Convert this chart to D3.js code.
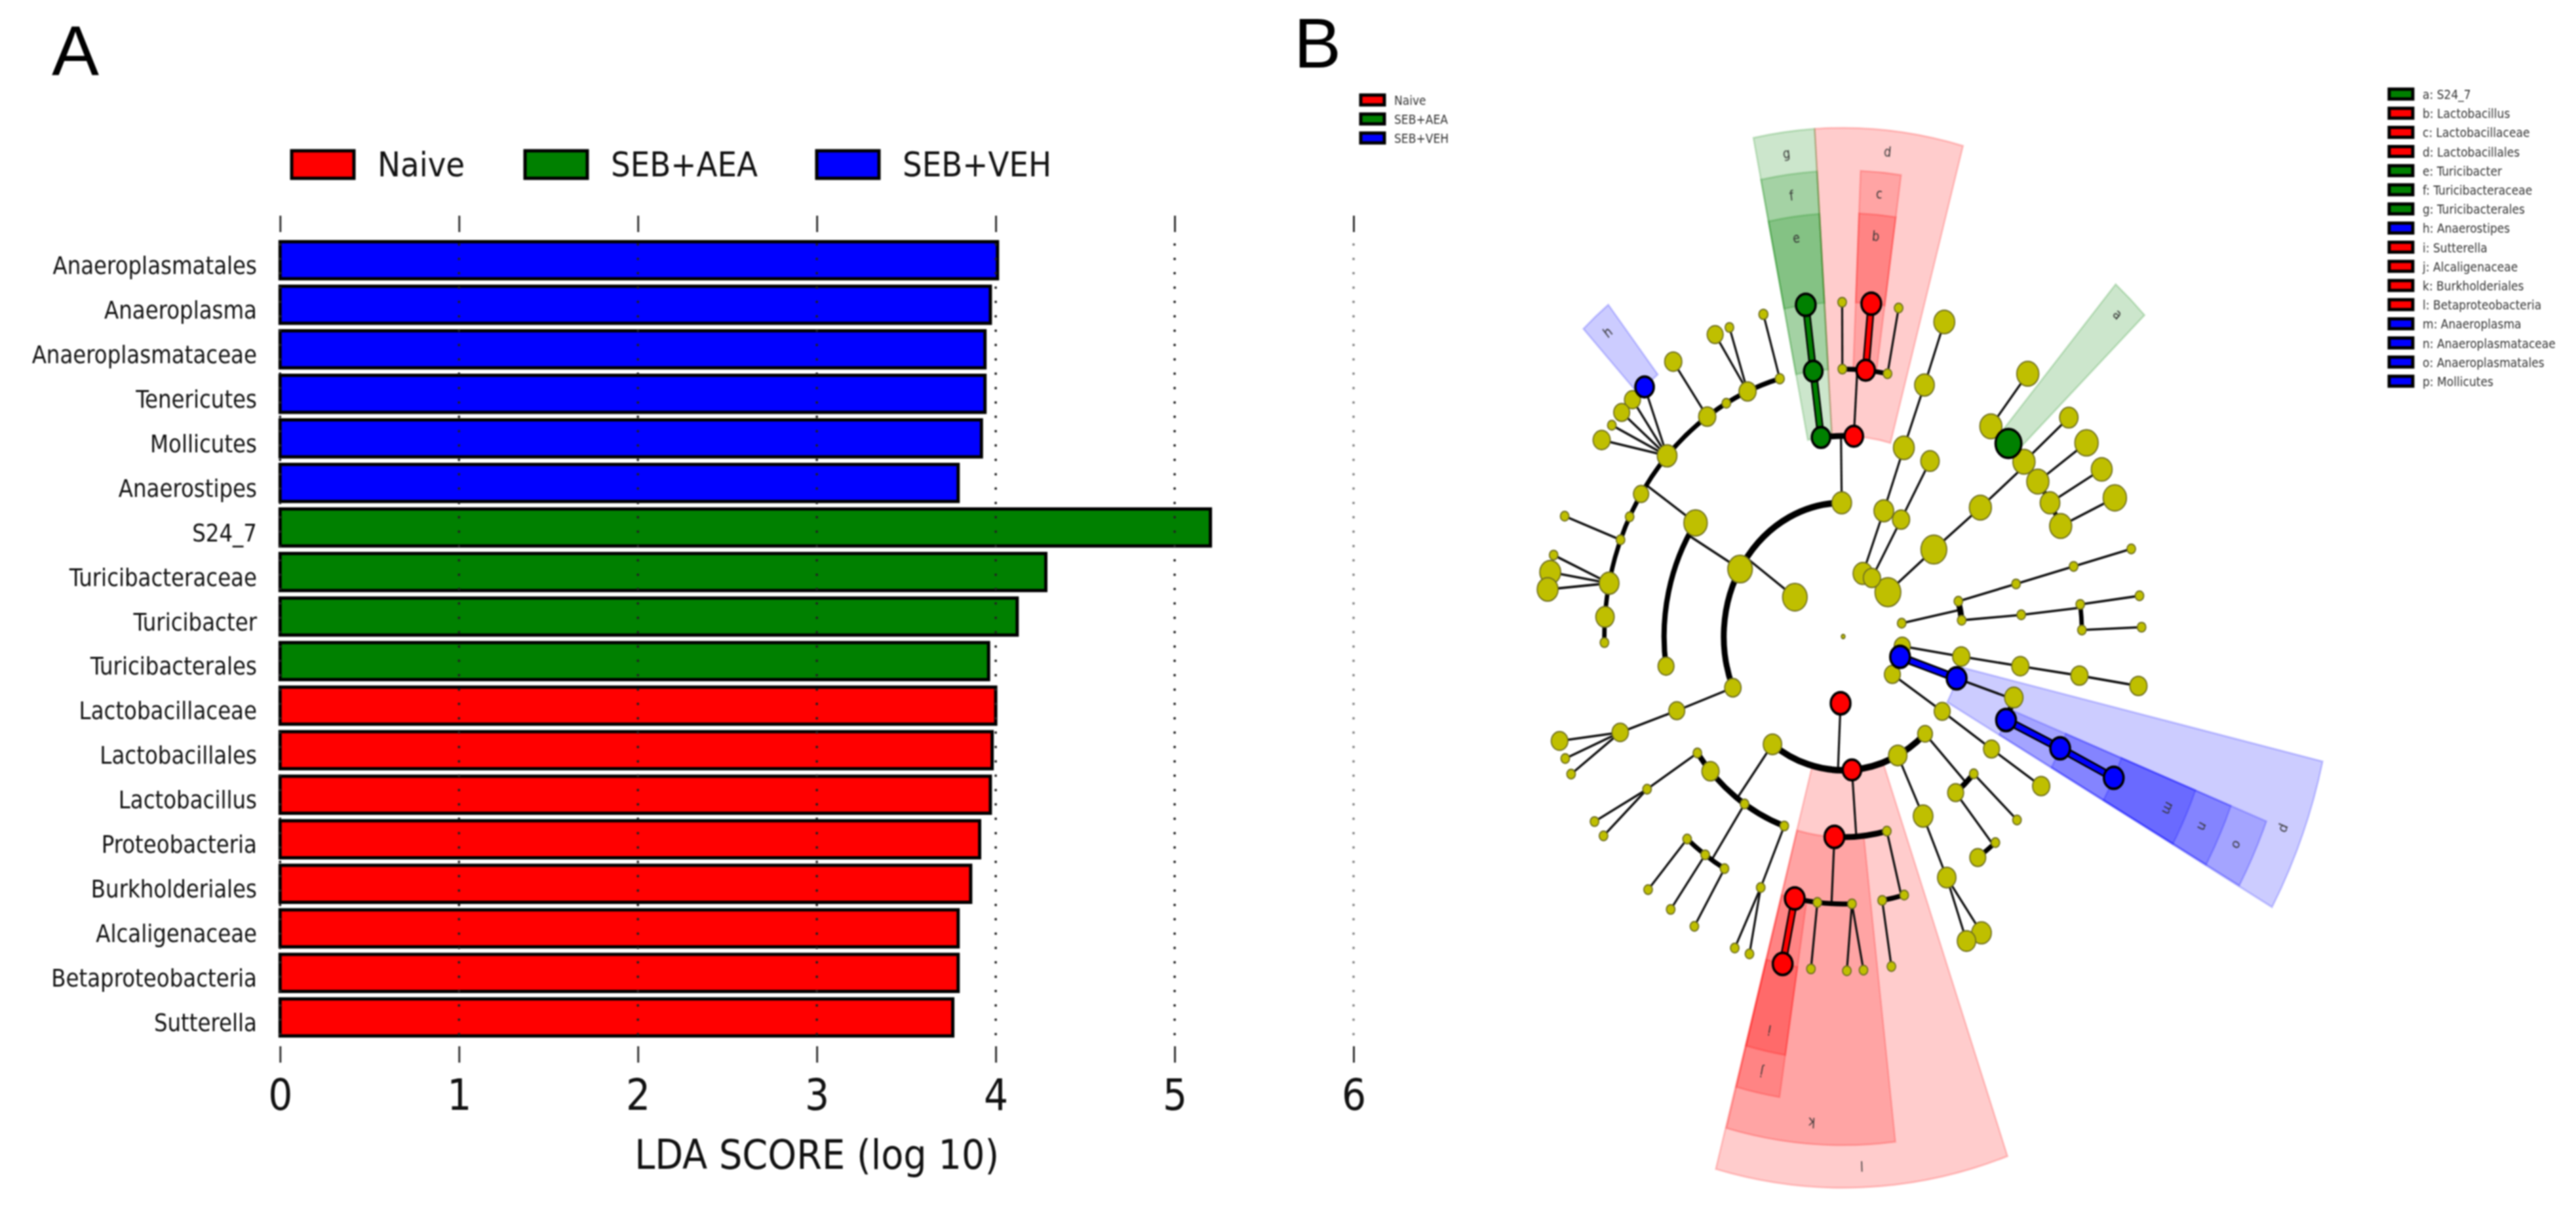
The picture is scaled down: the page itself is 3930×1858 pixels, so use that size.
<!DOCTYPE html>
<html>
<head>
<meta charset="utf-8">
<title>LDA score and cladogram</title>
<script src="https://cdn.jsdelivr.net/npm/d3@7"></script>
<style>
    html, body { margin: 0; padding: 0; background: #fff; }
    svg { display: block; filter: blur(0.9px); }
    text { font-family: "DejaVu Sans"; font-stretch: condensed; fill: #111; }
    .panel { font-family: "Liberation Sans"; font-stretch: normal; fill: #000; }
    .tiny { font-family: "DejaVu Sans"; font-stretch: condensed; fill: #333; filter: blur(0.5px); }
</style>
</head>
<body>
<script>
// Panel A: LDA scores, top to bottom
var taxa = ["Anaeroplasmatales", "Anaeroplasma", "Anaeroplasmataceae", "Tenericutes", "Mollicutes", "Anaerostipes",
    "S24_7", "Turicibacteraceae", "Turicibacter", "Turicibacterales",
    "Lactobacillaceae", "Lactobacillales", "Lactobacillus", "Proteobacteria", "Burkholderiales", "Alcaligenaceae", "Betaproteobacteria", "Sutterella"];
var ldaScores = [4.01, 3.97, 3.94, 3.94, 3.92, 3.79, 5.20, 4.28, 4.12, 3.96, 4.00, 3.98, 3.97, 3.91, 3.86, 3.79, 3.79, 3.76];
var taxaGroups = ["V", "V", "V", "V", "V", "V", "A", "A", "A", "A", "N", "N", "N", "N", "N", "N", "N", "N"];
var ldaTicks = [0, 1, 2, 3, 4, 5, 6];

var groupKeys = ["N", "A", "V"];
var groupNames = ["Naive", "SEB+AEA", "SEB+VEH"];
var groupColors = ["#ff0000", "#008000", "#0000ff"];

// Panel B: highlighted clades, letter then taxon
var cladeLetters = ["a", "b", "c", "d", "e", "f", "g", "h", "i", "j", "k", "l", "m", "n", "o", "p"];
var cladeNames = ["S24_7", "Lactobacillus", "Lactobacillaceae", "Lactobacillales", "Turicibacter", "Turicibacteraceae", "Turicibacterales",
    "Anaerostipes", "Sutterella", "Alcaligenaceae", "Burkholderiales", "Betaproteobacteria", "Anaeroplasma", "Anaeroplasmataceae", "Anaeroplasmatales", "Mollicutes"];
var cladeGroups = ["A", "N", "N", "N", "A", "A", "A", "V", "N", "N", "N", "N", "V", "V", "V", "V"];
var cladeRings = [4, 5, 4, 3, 5, 4, 3, 5, 5, 4, 3, 2, 5, 4, 3, 2];
var cladeFrom = [40.9, 2.4, 2.4, -3.6, -11.4, -11.4, -11.4, -43.4, 188.8, 188.8, 173.4, 160.5, 111.3, 111.3, 111.3, 103.1];
var cladeTo = [46.4, 8, 8, 15.3, -3.6, -3.6, -3.6, -38.4, 194.9, 194.9, 194.9, 195, 119.3, 119.3, 119.3, 119.4];

// Cladogram rows: id, parent, ring, angle (deg clockwise from north), size, group
var rootNode = [["root", null, 0, 0, 1.5, ""]];
var bacilli = [
    ["fir", null, 1, -54, 10, ""],
    ["bac", "fir", 2, -0.7, 8, ""],
    ["g", "bac", 3, -7.1, 7.5, "A"],
    ["f", "g", 4, -7.2, 7.5, "A"],
    ["e", "f", 5, -7.2, 8, "A"],
    ["d", "bac", 3, 3.4, 7.5, "N"],
    ["c", "d", 4, 5.4, 7.5, "N"],
    ["b", "c", 5, 5.4, 8, "N"],
    ["d1", "d", 4, -0.2, 3.5, ""],
    ["d1a", "d1", 5, -0.2, 3.5, ""],
    ["d2", "d", 4, 10.7, 3.5, ""],
    ["d2a", "d2", 5, 10.7, 3.5, ""]
];
var clostridia = [
    ["cla", "fir", 2, -59.7, 10, ""],
    ["clo", "cla", 3, -55.5, 9.5, ""],
    ["clo2", "cla", 3, -98.5, 6.5, ""],
    ["f1", "clo", 4, -15.4, 3.7, ""],
    ["f1a", "f1", 5, -15.5, 3.7, ""],
    ["f2", "clo", 4, -23.6, 7, ""],
    ["f2a", "f2", 5, -25.4, 6.5, ""],
    ["f2b", "f2", 5, -22.4, 3.5, ""],
    ["f3", "clo", 4, -29.3, 3.5, ""],
    ["f4", "clo", 4, -34.7, 7, ""],
    ["f4a", "f4", 5, -34.7, 7, ""],
    ["f5", "clo", 4, -47.5, 8, ""],
    ["f5b", "f5", 5, -44.9, 6.5, ""],
    ["f5c", "f5", 5, -47.9, 6.5, ""],
    ["f5d", "f5", 5, -50.8, 3.5, ""],
    ["f5e", "f5", 5, -54, 7, ""],
    ["h", "f5", 5, -41.7, 7.5, "V"],
    ["f6", "clo", 4, -57.8, 6.2, ""],
    ["f7", "clo", 4, -63.4, 3.5, ""],
    ["f8", "clo", 4, -68.8, 3.5, ""],
    ["f8a", "f8", 5, -68.9, 3.5, ""],
    ["f9", "clo", 4, -78.5, 8, ""],
    ["f9a", "f9", 5, -75.9, 3.5, ""],
    ["f9b", "f9", 5, -78.9, 8.5, ""],
    ["f9c", "f9", 5, -81.9, 8.5, ""],
    ["f10", "clo", 4, -85.8, 7.5, ""],
    ["f11", "clo", 4, -91.3, 3.5, ""]
];
var erysipelotrichi = [
    ["ery", "fir", 2, -112.5, 6.7, ""],
    ["ery2", "ery", 3, -111.7, 6.5, ""],
    ["ery3", "ery2", 4, -111, 6.7, ""],
    ["ery3a", "ery3", 5, -108.2, 6.8, ""],
    ["ery3b", "ery3", 5, -111.4, 3.5, ""],
    ["ery3c", "ery3", 5, -114.3, 3.5, ""]
];
var bacteroidetes = [
    ["bct", null, 1, 48.5, 10.5, ""],
    ["bct2", "bct", 2, 49.4, 10.5, ""],
    ["bct3", "bct2", 3, 50, 9, ""],
    ["p1", "bct3", 4, 38.2, 9, ""],
    ["p1a", "p1", 5, 38.2, 9, ""],
    ["a", "bct3", 4, 43.8, 10.5, "A"],
    ["p2", "bct3", 4, 49.2, 9, ""],
    ["p2a", "p2", 5, 49.1, 7.5, ""],
    ["p3", "bct3", 4, 54.6, 9, ""],
    ["p3a", "p3", 5, 54.6, 9.5, ""],
    ["p4", "bct3", 4, 60, 8, ""],
    ["p4a", "p4", 5, 60, 8.5, ""],
    ["p5", "bct3", 4, 65.6, 9, ""],
    ["p5a", "p5", 5, 65.5, 9.5, ""]
];
var smallPhyla = [
    ["q1", null, 1, 19.3, 8, ""],
    ["q2", "q1", 2, 19.9, 8, ""],
    ["q3", "q2", 3, 19.8, 8.5, ""],
    ["q4", "q3", 4, 19.9, 8, ""],
    ["q5", "q4", 5, 19.8, 8.5, ""],
    ["s1", null, 1, 28.8, 7, ""],
    ["s2", "s1", 2, 29, 7, ""],
    ["s3", "s2", 3, 29, 7.5, ""],
    ["u1", null, 1, 98.3, 6.5, ""],
    ["u2", "u1", 2, 98.6, 7, ""],
    ["u3", "u2", 3, 98.5, 7, ""],
    ["u4", "u3", 4, 98.4, 7, ""],
    ["u5", "u4", 5, 98.5, 7, ""],
    ["w1", null, 1, 124.5, 6.5, ""],
    ["w2", "w1", 2, 124, 6.5, ""],
    ["w3", "w2", 3, 124.1, 6.5, ""],
    ["w4", "w3", 4, 124, 7, ""]
];
var actinobacteria = [
    ["t1", null, 1, 78.5, 3.5, ""],
    ["t2", "t1", 2, 74.7, 3.5, ""],
    ["t3", "t2", 3, 74.8, 3.5, ""],
    ["t4", "t3", 4, 74.8, 3.5, ""],
    ["t5", "t4", 5, 74.8, 3.5, ""],
    ["t6", "t1", 2, 83, 3.5, ""],
    ["t7", "t6", 3, 83.8, 3.5, ""],
    ["t8", "t7", 4, 83.1, 3.5, ""],
    ["t9", "t8", 5, 83, 3.5, ""],
    ["t10", "t7", 4, 88.6, 3.5, ""],
    ["t11", "t10", 5, 88.4, 3.5, ""]
];
var tenericutes = [
    ["ten", null, 1, 107.7, 8, "V"],
    ["p", "ten", 2, 108.2, 8, "V"],
    ["o", "p", 3, 114.6, 8, "V"],
    ["n", "o", 4, 114.7, 8, "V"],
    ["m", "n", 5, 115, 8, "V"],
    ["v3", "p", 3, 107.7, 7.5, ""]
];
var proteobacteria = [
    ["pro", null, 1, 182.5, 8, "N"],
    ["x1", "pro", 2, 136.7, 6, ""],
    ["x1a", "x1", 3, 133.2, 3.5, ""],
    ["x1b", "x1a", 4, 133.3, 3.5, ""],
    ["x1c", "x1", 3, 141.1, 6.5, ""],
    ["x1d", "x1c", 4, 140.4, 3.5, ""],
    ["x1e", "x1c", 4, 145.7, 6.5, ""],
    ["x2", "pro", 2, 152.8, 7.5, ""],
    ["x2a", "x2", 3, 153.5, 8, ""],
    ["x2b", "x2a", 4, 154.3, 7.5, ""],
    ["x2c", "x2b", 5, 152.4, 8, ""],
    ["x2d", "x2b", 5, 155.6, 7.5, ""],
    ["l", "pro", 2, 175.8, 7.5, "N"],
    ["x3", "l", 3, 165.9, 3.5, ""],
    ["x3a", "x3", 4, 165.2, 3.5, ""],
    ["x3b", "x3", 4, 170.6, 3.5, ""],
    ["x3c", "x3b", 5, 170.7, 3.5, ""],
    ["k", "l", 3, 182.8, 8, "N"],
    ["j", "k", 4, 191.7, 8, "N"],
    ["i", "j", 5, 191.7, 8, "N"],
    ["x4", "k", 4, 186.2, 3.5, ""],
    ["x4a", "x4", 5, 186.2, 3.5, ""],
    ["x5", "k", 4, 177.9, 3.5, ""],
    ["x5a", "x5", 5, 179.3, 3.5, ""],
    ["x5b", "x5", 5, 176.1, 3.5, ""],
    ["x6", "pro", 2, 216.3, 7.5, ""],
    ["x7", "x6", 3, 199.2, 3.5, ""],
    ["x7a", "x7", 4, 200.2, 3.5, ""],
    ["x7b", "x7a", 5, 201.3, 3.5, ""],
    ["x7c", "x7a", 5, 198.3, 3.5, ""],
    ["x8", "x6", 3, 213.4, 3.5, ""],
    ["x8a", "x8", 4, 209.8, 3.5, ""],
    ["x8b", "x8a", 5, 209.9, 3.5, ""],
    ["x8c", "x8", 4, 215.3, 3.5, ""],
    ["x8d", "x8c", 5, 215.3, 3.5, ""],
    ["x8e", "x8", 4, 220.8, 3.5, ""],
    ["x8f", "x8e", 5, 220.8, 3.5, ""],
    ["x9", "x6", 3, 227.8, 7, ""],
    ["x10", "x6", 3, 234.5, 3.5, ""],
    ["x10a", "x10", 4, 235.2, 3.5, ""],
    ["x10b", "x10a", 5, 236.4, 3.5, ""],
    ["x10c", "x10a", 5, 233.4, 3.5, ""]
];

var svg = d3.select("body").append("svg").attr("width", 3930).attr("height", 1858);

function groupColor(key) {
    return groupColors[groupKeys.indexOf(key)];
}

/**
 * Panel A bars, axes and legend
 */
function drawBars() {
    var x = d3.scaleLinear().domain([0, 6]).range([427.3, 2065]);
    var y = d3.scaleBand().domain(taxa).range([363, 1586]).paddingInner(0.1685).paddingOuter(0.084);
    var g = svg.append("g");

    g.selectAll("rect.bar").data(taxa).join("rect")
        .attr("class", "bar")
        .attr("x", x(0))
        .attr("y", function (d) { return y(d); })
        .attr("width", function (d, i) { return x(ldaScores[i]) - x(0); })
        .attr("height", y.bandwidth())
        .attr("fill", function (d, i) { return groupColor(taxaGroups[i]); })
        .attr("stroke", "#000")
        .attr("stroke-width", 5);

    // dotted grid sits on top of the bars
    g.selectAll("line.grid").data(ldaTicks).join("line")
        .attr("class", "grid")
        .attr("x1", x).attr("x2", x)
        .attr("y1", 373).attr("y2", 1596)
        .attr("stroke", function (d) { return d === 6 ? "#888" : "#222"; })
        .attr("stroke-width", 4)
        .attr("stroke-linecap", "round")
        .attr("stroke-dasharray", "0 21.9");

    var bottom = g.append("g").attr("transform", "translate(0,1596)")
        .call(d3.axisBottom(x).tickValues(ldaTicks).tickFormat(d3.format("d")).tickSize(25).tickPadding(26));
    var top = g.append("g").attr("transform", "translate(0,354)")
        .call(d3.axisTop(x).tickValues(ldaTicks).tickFormat("").tickSize(25));
    [bottom, top].forEach(function (axis) {
        axis.select(".domain").remove();
        axis.selectAll("line").attr("stroke", "#333").attr("stroke-width", 3);
    });
    bottom.selectAll("text").attr("font-size", 65).attr("fill", "#111").style("font-family", "DejaVu Sans");

    // labels are a little narrower than the condensed face
    g.selectAll("text.taxon").data(taxa).join("text")
        .attr("class", "taxon")
        .attr("transform", function (d) { return "translate(392," + (y(d) + y.bandwidth() / 2 + 21) + ") scale(0.95,1)"; })
        .attr("text-anchor", "end")
        .attr("font-size", 38)
        .text(function (d) { return d; });

    g.append("text")
        .attr("x", x(3)).attr("y", 1783)
        .attr("text-anchor", "middle")
        .attr("font-size", 62)
        .text("LDA SCORE (log 10)");

    var swatchX = [445, 801, 1246];
    g.selectAll("rect.key").data(groupNames).join("rect")
        .attr("class", "key")
        .attr("x", function (d, i) { return swatchX[i]; })
        .attr("y", 230).attr("width", 95).attr("height", 42)
        .attr("fill", function (d, i) { return groupColors[i]; })
        .attr("stroke", "#000").attr("stroke-width", 5);
    g.selectAll("text.key").data(groupNames).join("text")
        .attr("class", "key")
        .attr("x", function (d, i) { return swatchX[i] + 131; })
        .attr("y", 269)
        .attr("font-size", 52)
        .text(function (d) { return d; });
}

/**
 * Small legends of panel B
 */
function drawSmallLegend(names, keys, left, top, step) {
    var g = svg.append("g");
    g.selectAll("rect").data(names).join("rect")
        .attr("x", left)
        .attr("y", function (d, i) { return top + i * step; })
        .attr("width", 36).attr("height", 15)
        .attr("fill", function (d, i) { return groupColor(keys[i]); })
        .attr("stroke", "#000").attr("stroke-width", 5);
    g.selectAll("text").data(names).join("text")
        .attr("class", "tiny")
        .attr("x", left + 51)
        .attr("y", function (d, i) { return top + i * step + 15; })
        .attr("font-size", 19)
        .text(function (d) { return d; });
}

/**
 * Panel B cladogram, drawn in polar coordinates
 */
function drawCladogram() {
    var nodes = [].concat(rootNode, bacilli, clostridia, erysipelotrichi, bacteroidetes, smallPhyla, actinobacteria, tenericutes, proteobacteria)
        .map(function (row) {
            return { id: row[0], parent: row[1], ring: row[2], angle: row[3], size: row[4], group: row[5] };
        });
    var byId = d3.index(nodes, function (d) { return d.id; });
    var children = d3.group(nodes.filter(function (d) { return d.parent; }), function (d) { return d.parent; });

    var radius = d3.scaleLinear().domain([0, 5]).range([0, 510]);
    var outer = d3.scaleLinear().domain([2, 5]).range([841, 646]);
    var nodeRadius = d3.scaleLinear().domain([0, 10]).range([0, 21]);
    var arcWidth = d3.scaleOrdinal().domain([2, 3, 4]).range([10, 9, 7.5]);
    var rad = function (deg) { return deg * Math.PI / 180; };
    var point = function (deg, ring) { return d3.pointRadial(rad(deg), radius(ring)); };

    // the source figure is squeezed horizontally
    var g = svg.append("g").attr("transform", "translate(2812,971) scale(0.893,1)");

    var wedgeOrder = d3.range(cladeLetters.length).sort(function (a, b) { return cladeRings[a] - cladeRings[b]; });
    var wedge = d3.arc();
    g.append("g").selectAll("path").data(wedgeOrder).join("path")
        .attr("d", function (i) {
            return wedge({
                innerRadius: radius(cladeRings[i]), outerRadius: outer(cladeRings[i]),
                startAngle: rad(cladeFrom[i]), endAngle: rad(cladeTo[i])
            });
        })
        .attr("fill", function (i) { return groupColor(cladeGroups[i]); })
        .attr("fill-opacity", 0.2)
        .attr("stroke", function (i) { return groupColor(cladeGroups[i]); })
        .attr("stroke-opacity", 0.2)
        .attr("stroke-width", 3);

    g.append("g").selectAll("text").data(wedgeOrder).join("text")
        .attr("class", "tiny")
        .attr("transform", function (i) {
            var mid = (cladeFrom[i] + cladeTo[i]) / 2;
            var p = d3.pointRadial(rad(mid), outer(cladeRings[i]) - 32);
            return "translate(" + p[0] + "," + p[1] + ") rotate(" + mid + ")";
        })
        .attr("text-anchor", "middle")
        .attr("dy", "0.35em")
        .attr("font-size", 22)
        .text(function (i) { return cladeLetters[i]; });

    var links = g.append("g");
    var line = function (a, b, color, width) {
        links.append("line")
            .attr("x1", a[0]).attr("y1", a[1]).attr("x2", b[0]).attr("y2", b[1])
            .attr("stroke", color).attr("stroke-width", width);
    };

    children.forEach(function (kids, parentId) {
        var parent = byId.get(parentId);
        var from = point(parent.angle, parent.ring);
        if (kids.length === 1) {
            var only = kids[0];
            var to = point(only.angle, only.ring);
            if (only.group && parent.group) {
                line(from, to, "#000", 13);
                line(from, to, groupColor(only.group), 7.5);
            } else {
                line(from, to, "#111", 3.6);
            }
        } else if (kids[0].ring === 5) {
            // genera fan straight out of the family
            kids.forEach(function (kid) { line(from, point(kid.angle, kid.ring), "#111", 3.6); });
        } else {
            var ring = kids[0].ring;
            line(from, point(parent.angle, ring), "#111", 3.6);
            var extent = d3.extent(kids, function (d) { return d.angle; });
            links.append("path")
                .attr("d", d3.arc()({
                    innerRadius: radius(ring), outerRadius: radius(ring),
                    startAngle: rad(extent[0]), endAngle: rad(extent[1])
                }))
                .attr("fill", "none")
                .attr("stroke", "#000")
                .attr("stroke-width", arcWidth(ring));
        }
    });

    var drawOrder = nodes.slice().sort(function (a, b) { return (a.group ? 1 : 0) - (b.group ? 1 : 0); });
    g.append("g").selectAll("circle").data(drawOrder).join("circle")
        .attr("cx", function (d) { return point(d.angle, d.ring)[0]; })
        .attr("cy", function (d) { return point(d.angle, d.ring)[1]; })
        .attr("r", function (d) { return nodeRadius(d.size); })
        .attr("fill", function (d) { return d.group ? groupColor(d.group) : "#bfbf00"; })
        .attr("stroke", function (d) { return d.group ? "#000" : "#6f6f20"; })
        .attr("stroke-width", function (d) { return d.group ? 4 : 2; });
}

svg.append("text").attr("class", "panel").attr("x", 79).attr("y", 115).attr("font-size", 108).text("A");
svg.append("text").attr("class", "panel").attr("x", 1974).attr("y", 103).attr("font-size", 108).text("B");

drawBars();
drawSmallLegend(groupNames, groupKeys, 2076, 145, 29);
drawSmallLegend(cladeLetters.map(function (d, i) { return d + ": " + cladeNames[i]; }), cladeGroups, 3645, 136, 29.2);
drawCladogram();
</script>
</body>
</html>
